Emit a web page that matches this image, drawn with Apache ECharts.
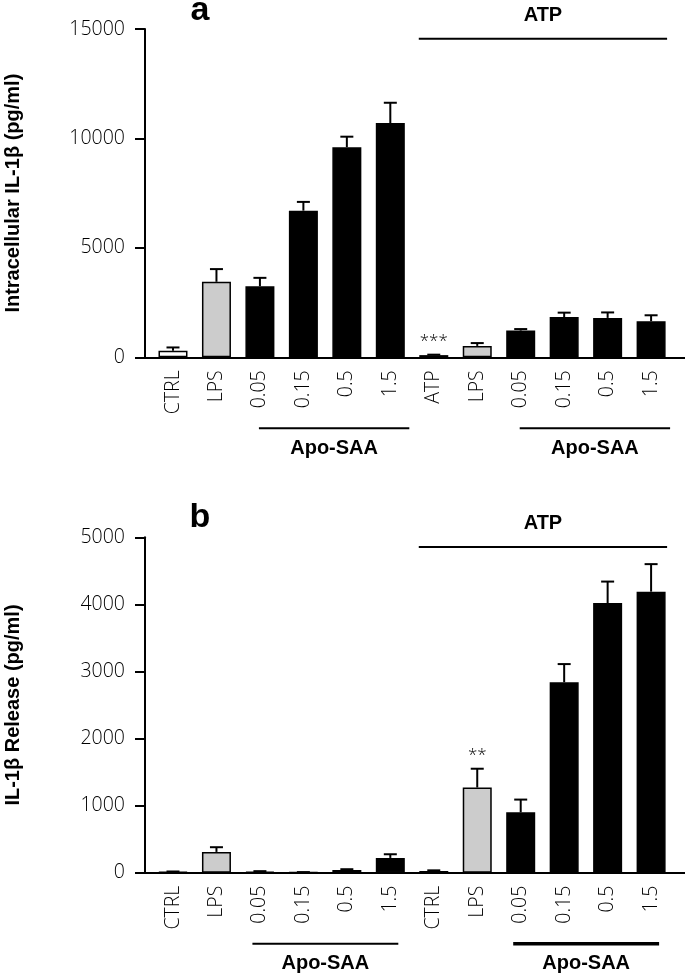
<!DOCTYPE html>
<html><head><meta charset="utf-8">
<script src="https://cdn.jsdelivr.net/npm/echarts@6/dist/echarts.min.js"></script>
<style>html,body{margin:0;padding:0;background:#fff}#c{width:685px;height:977px}</style>
</head><body><div id="c"></div>
<script>
// ---- data ----
const categoriesA = ['CTRL','LPS','0.05','0.15','0.5','1.5','ATP','LPS','0.05','0.15','0.5','1.5'];
const categoriesB = ['CTRL','LPS','0.05','0.15','0.5','1.5','CTRL','LPS','0.05','0.15','0.5','1.5'];
const groupKind = ['ctrl','lps','saa','saa','saa','saa','ctrl','lps','saa','saa','saa','saa'];
const intracellularMean = [300,3450,3250,6700,9600,10700,100,520,1220,1840,1800,1650];
const intracellularSem  = [150,580,380,400,480,930,20,130,70,200,250,270];
const releaseMean = [10,310,15,5,40,220,25,1270,900,2840,4020,4190];
const releaseSem  = [8,70,8,4,12,55,10,280,190,270,320,410];
const sigA = ['','','','','','','***','','','','',''];
const sigB = ['','','','','','','','**','','','',''];
const yAxisA = {min:0, max:15000, interval:5000};
const yAxisB = {min:0, max:5000, interval:1000};
const yTitleA = 'Intracellular IL-1β (pg/ml)';
const yTitleB = 'IL-1β Release (pg/ml)';
const panelLabels = ['a','b'];
const topBrackets = [{text:'ATP', from:6, to:11}];
const bottomBrackets = [{text:'Apo-SAA', from:2, to:5},{text:'Apo-SAA', from:8, to:11}];

// ---- styles ----
const fillOf = {ctrl:'#ffffff', lps:'#cccccc', saa:'#000000'};
const lightFont = "'Open Sans', 'DejaVu Sans', sans-serif";
const boldFont = "'Liberation Sans', Arial, sans-serif";
const W = 685, H = 977;
const grids = [
  {left:145, right:0, top:29, height:328.3, containLabel:false, outerBoundsMode:'none'},
  {left:145, right:0, top:537.3, height:335.4, containLabel:false, outerBoundsMode:'none'}
];
const xMin = -0.644, xMax = 11.78;

const chart = echarts.init(document.getElementById('c'), null, {renderer:'canvas', width:W, height:H});

function xAxisFor(g, cats){
  return {
    type:'value', gridIndex:g, min:xMin, max:xMax,
    axisLine:{show:true, onZero:false, lineStyle:{color:'#000', width:2}},
    axisTick:{show:false}, splitLine:{show:false},
    axisLabel:{
      show:true, customValues:cats.map((c,i)=>i), rotate:90, margin:13,
      formatter:(v)=>cats[Math.round(v)] || '',
      fontFamily:lightFont, fontWeight:300, fontSize:19.5, color:'#000'
    }
  };
}
function yAxisFor(g, cfg, title){
  return {
    type:'value', gridIndex:g, min:cfg.min, max:cfg.max, interval:cfg.interval,
    name:title, nameLocation:'middle', nameGap:122,
    nameTextStyle:{fontFamily:boldFont, fontWeight:'bold', fontSize:20, color:'#000'},
    axisLine:{show:true, onZero:false, lineStyle:{color:'#000', width:2}},
    axisTick:{show:true, length:10, lineStyle:{color:'#000', width:2}},
    splitLine:{show:false},
    axisLabel:{margin:20, formatter:(v)=>String(v), fontFamily:lightFont, fontWeight:300, fontSize:19.5, color:'#000'}
  };
}
function barSeries(g, means){
  return {
    type:'bar', xAxisIndex:g, yAxisIndex:g, barWidth:29,
    data: means.map((v,i)=>({value:[i,v], itemStyle:{color:fillOf[groupKind[i]]}})),
    itemStyle:{borderColor:'#000', borderWidth:1.5},
    z:3, animation:false
  };
}
function errSeries(g, means, sems, sig){
  return {
    type:'custom', xAxisIndex:g, yAxisIndex:g, z:2, animation:false,
    data: means.map((v,i)=>[i, v, sems[i]]),
    renderItem:(params, api)=>{
      const i = api.value(0), m = api.value(1), e = api.value(2);
      const p0 = api.coord([i, m]), p1 = api.coord([i, m+e]);
      const children = [
        {type:'line', shape:{x1:p0[0], y1:p0[1], x2:p1[0], y2:p1[1]}, style:{stroke:'#000', lineWidth:2}},
        {type:'line', shape:{x1:p1[0]-6.5, y1:p1[1], x2:p1[0]+6.5, y2:p1[1]}, style:{stroke:'#000', lineWidth:2}}
      ];
      const s = sig[i];
      if (s) children.push({type:'text', style:{text:s, x:p1[0], y:p1[1]-5, align:'center', verticalAlign:'bottom',
        font:"300 17px " + lightFont, fill:'#000'}});
      return {type:'group', children};
    }
  };
}

chart.setOption({
  animation:false,
  backgroundColor:'#fff',
  grid: grids,
  xAxis:[xAxisFor(0, categoriesA), xAxisFor(1, categoriesB)],
  yAxis:[yAxisFor(0, yAxisA, yTitleA), yAxisFor(1, yAxisB, yTitleB)],
  series:[
    errSeries(0, intracellularMean, intracellularSem, sigA),
    barSeries(0, intracellularMean),
    errSeries(1, releaseMean, releaseSem, sigB),
    barSeries(1, releaseMean)
  ]
});

// ---- annotations (brackets, panel letters), placed from axis scales ----
const gfx = [];
const layout = [
  {top:29, bottom:357.3, bOff:[-1,19], bW:[2,2]},
  {top:537.3, bottom:872.7, bOff:[-7.5,8], bW:[2,3.5]}
];
function px(g, v){ return chart.convertToPixel({xAxisIndex:g}, v); }
layout.forEach((L, g)=>{
  topBrackets.forEach(b=>{
    const x1 = px(g, b.from) - 15, x2 = px(g, b.to) + 16;
    const yl = L.top + 9.8;
    gfx.push({type:'line', shape:{x1, y1:yl, x2, y2:yl}, style:{stroke:'#000', lineWidth:2}});
    gfx.push({type:'text', x:(x1+x2)/2, y:L.top-13.5, style:{text:b.text, align:'center', verticalAlign:'middle',
      font:"bold 20px " + boldFont, fill:'#000'}});
  });
  bottomBrackets.forEach((b, k)=>{
    const x1 = px(g, b.from) + L.bOff[0], x2 = px(g, b.to) + L.bOff[1];
    const yl = L.bottom + 71;
    gfx.push({type:'line', shape:{x1, y1:yl, x2, y2:yl}, style:{stroke:'#000', lineWidth:L.bW[k]}});
    gfx.push({type:'text', x:(x1+x2)/2, y:L.bottom+91, style:{text:b.text, align:'center', verticalAlign:'middle',
      font:"bold 20px " + boldFont, fill:'#000'}});
  });
  gfx.push({type:'text', x:200, y: g===0 ? 11 : 518, style:{text:panelLabels[g], align:'center', verticalAlign:'middle',
    font:"bold 34px " + boldFont, fill:'#000'}});
});
chart.setOption({graphic: gfx});
</script>
</body></html>
